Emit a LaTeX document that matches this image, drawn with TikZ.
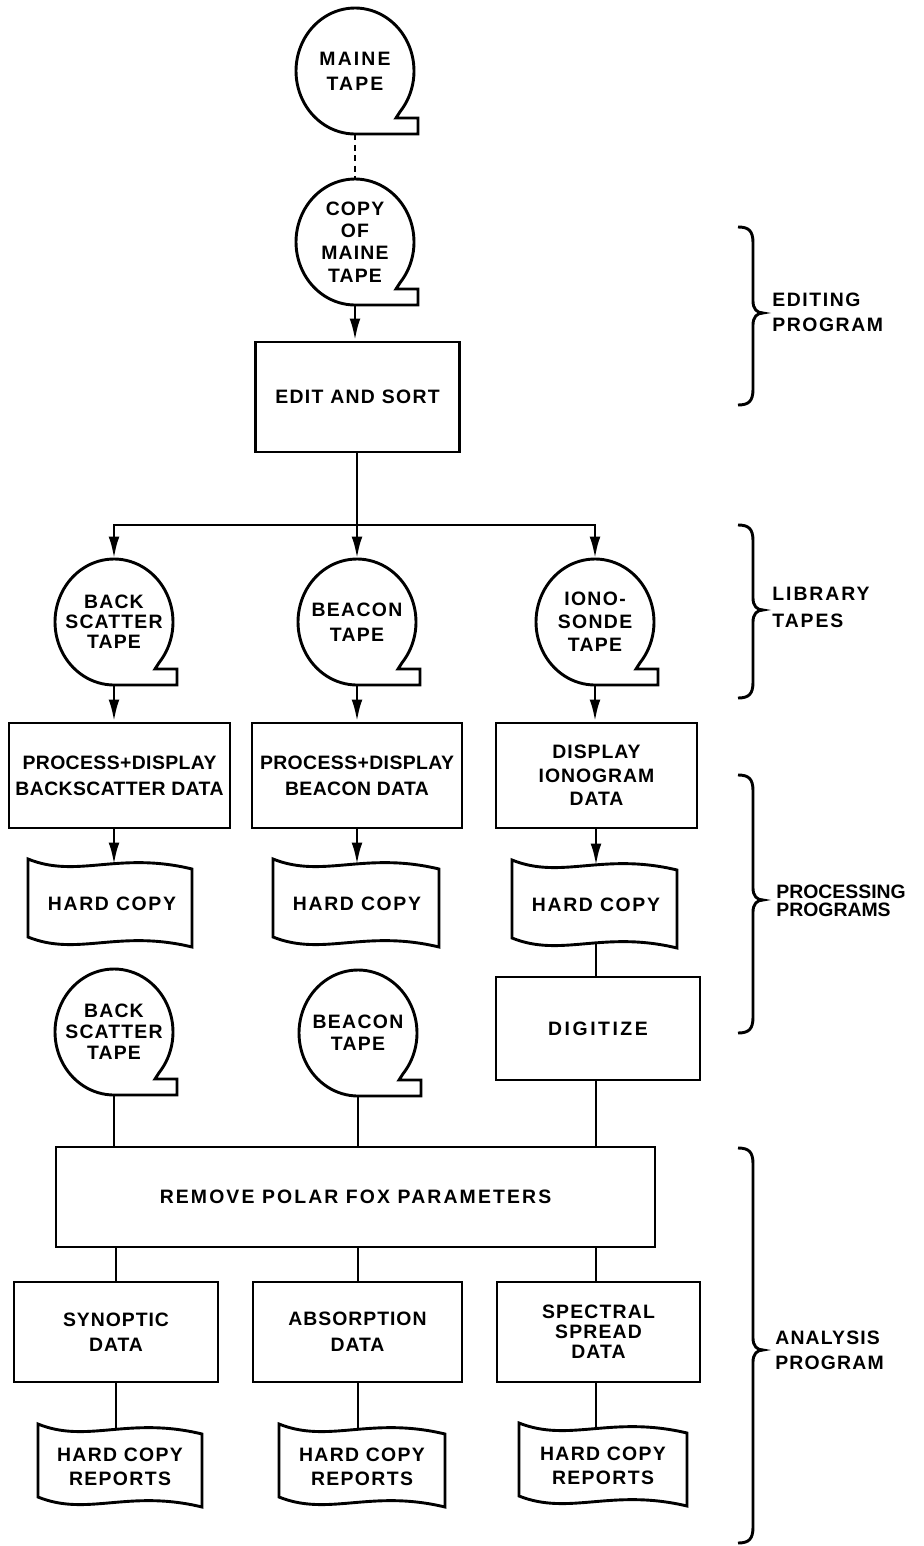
\documentclass[tikz,border=0pt]{standalone}
\usepackage{fontspec}
\setmainfont{Liberation Sans}
\usetikzlibrary{arrows.meta}
% tape (reel) outline: centre cx, cy (pixel units)
\newcommand\tapeshape[2]{%
  \draw[ln] plot[smooth, domain=90:400, samples=80] ({#1+59*cos(\x)},{#2+63*sin(\x)})
    -- ({#1+41},{#2+47}) -- ({#1+63},{#2+47}) -- ({#1+63},{#2+63}) -- cycle;}
% hard-copy outline: left, top, right, height
\newcommand\hcshape[4]{%
  \draw[ln] (#1,#2) .. controls ({#1+0.3*(#3-#1)},{#2+20}) and ({#1+0.55*(#3-#1)},{#2-8}) .. (#3,{#2+10})
    -- (#3,{#2+10+#4}) .. controls ({#1+0.55*(#3-#1)},{#2+#4-8}) and ({#1+0.3*(#3-#1)},{#2+#4+20}) .. (#1,{#2+#4}) -- cycle;}
% right brace: top, tip, bottom
\newcommand\bracedraw[3]{%
  \draw[ln] (738,#1) .. controls (749,#1) and (753,{#1+4}) .. (753,{#1+16})
    -- (753,{#2-12}) .. controls (753,{#2-4}) and (757,#2) .. (763,#2)
    .. controls (757,#2) and (753,{#2+4}) .. (753,{#2+12})
    -- (753,{#3-16}) .. controls (753,{#3-4}) and (749,#3) .. (738,#3);}
\begin{document}
\begin{tikzpicture}[x=0.5pt,y=-0.5pt,
  ln/.style={line width=1.45pt},
  arr/.style={ln,-{Latex[length=11pt,width=5.4pt]}},
  fnt/.style n args={2}{font=\fontsize{9.7}{#2}\selectfont\bfseries\addfontfeature{LetterSpace=#1}},
  box/.style={draw,ln,rectangle,inner sep=0pt,align=center},
  tapen/.style={circle,minimum size=63pt,inner sep=0pt,align=center},
  hcn/.style={rectangle,inner sep=0pt,align=center,minimum width=75pt},
  lab/.style={anchor=west,align=left,inner sep=0pt}]
\useasboundingbox (0,0) rectangle (923,1546);

% ---------- tapes ----------
\tapeshape{355}{71}
\node[tapen,fnt={11}{12.5}] (maine) at (355,71) {MAINE\\TAPE};
\tapeshape{355}{242}
\node[tapen,fnt={6}{11.2}] (copy) at (355,242) {COPY\\OF\\MAINE\\TAPE};
\tapeshape{114}{622}
\node[tapen,fnt={6}{10}] (bst1) at (114,622) {BACK\\SCATTER\\TAPE};
\tapeshape{357}{622}
\node[tapen,fnt={7}{12.5}] (bcn1) at (357,622) {BEACON\\TAPE};
\tapeshape{595}{622}
\node[tapen,fnt={7}{11.5}] (iono) at (595,622) {IONO-\\SONDE\\TAPE};
\tapeshape{114}{1032}
\node[tapen,fnt={6}{10.5}] (bst2) at (114,1032) {BACK\\SCATTER\\TAPE};
\tapeshape{358}{1033}
\node[tapen,fnt={7}{11}] (bcn2) at (358,1033) {BEACON\\TAPE};

% ---------- boxes ----------
\node[box,fnt={7}{12},minimum width=102pt,minimum height=55pt] (edit) at (357.5,397) {EDIT AND SORT};
\node[box,fnt={2}{13},minimum width=110.5pt,minimum height=52.5pt] (proc1) at (119.5,775.5) {PROCESS+DISPLAY\\BACKSCATTER DATA};
\node[box,fnt={2}{13},minimum width=105pt,minimum height=52.5pt] (proc2) at (357,775.5) {PROCESS+DISPLAY\\BEACON DATA};
\node[box,fnt={5}{11.8},minimum width=100.5pt,minimum height=52.5pt] (proc3) at (596.5,775.5) {DISPLAY\\IONOGRAM\\DATA};
\node[box,fnt={13}{12},minimum width=102pt,minimum height=51.5pt] (digit) at (598,1028.5) {DIGITIZE};
\node[box,fnt={11}{12},minimum width=299.5pt,minimum height=50pt] (remove) at (355.5,1197) {REMOVE POLAR FOX PARAMETERS};
\node[box,fnt={5}{12.5},minimum width=102pt,minimum height=50pt] (synop) at (116,1332) {SYNOPTIC\\DATA};
\node[box,fnt={5}{13},minimum width=104.5pt,minimum height=50pt] (absorb) at (357.5,1332) {ABSORPTION\\DATA};
\node[box,fnt={6}{10},minimum width=101.5pt,minimum height=50pt] (spect) at (598.5,1332) {SPECTRAL\\SPREAD\\DATA};

% ---------- hard copies ----------
\hcshape{28}{859}{192}{78}
\node[hcn,fnt={8.6}{12},minimum height=39pt] (hc1) at (112,904) {HARD COPY};
\hcshape{273}{859}{439}{78}
\node[hcn,fnt={8.6}{12},minimum height=39pt] (hc2) at (357,904) {HARD COPY};
\hcshape{512}{860}{677}{78}
\node[hcn,fnt={8.6}{12},minimum height=39pt] (hc3) at (596,905) {HARD COPY};
\hcshape{38}{1424}{202}{73}
\node[hcn,fnt={7}{12},minimum height=36.5pt] (rep1) at (120,1466.5) {HARD COPY\\REPORTS};
\hcshape{279}{1424}{445}{73}
\node[hcn,fnt={7}{12},minimum height=36.5pt] (rep2) at (362,1466.5) {HARD COPY\\REPORTS};
\hcshape{519}{1423}{687}{73}
\node[hcn,fnt={7}{12},minimum height=36.5pt] (rep3) at (603,1465.5) {HARD COPY\\REPORTS};

% ---------- connectors ----------
\draw[ln,dash pattern=on 3pt off 2.2pt] (maine.south) -- (copy.north);
\draw[arr] (copy.south) -- (copy.south |- edit.north);
\coordinate (split) at (357,525);
\draw[ln] (edit.south -| split) -- (split);
\draw[arr] (split) -| (bst1.north);
\draw[arr] (split) -| (iono.north);
\draw[arr] (split) -- (split |- bcn1.north);
\draw[arr] (bst1.south) -- (bst1.south |- proc1.north);
\draw[arr] (bcn1.south) -- (bcn1.south |- proc2.north);
\draw[arr] (iono.south) -- (iono.south |- proc3.north);
\draw[arr] (bst1.south |- proc1.south) -- (bst1.south |- hc1.north);
\draw[arr] (bcn1.south |- proc2.south) -- (bcn1.south |- hc2.north);
\draw[arr] (hc3.north |- proc3.south) -- (hc3.north);
\draw[ln] (hc3.south) -- (hc3.south |- digit.north);
\draw[ln] (bst2.south) -- (bst2.south |- remove.north);
\draw[ln] (bcn2.south) -- (bcn2.south |- remove.north);
\draw[ln] (hc3.south |- digit.south) -- (hc3.south |- remove.north);
\draw[ln] (synop.north |- remove.south) -- (synop.north);
\draw[ln] (bcn2.south |- remove.south) -- (bcn2.south |- absorb.north);
\draw[ln] (hc3.south |- remove.south) -- (hc3.south |- spect.north);
\draw[ln] (synop.south) -- (synop.south |- rep1.north);
\draw[ln] (bcn2.south |- absorb.south) -- (bcn2.south |- rep2.north);
\draw[ln] (hc3.south |- spect.south) -- (hc3.south |- rep3.north);

% ---------- braces and labels ----------
\bracedraw{227}{313}{405}
\node[lab,fnt={8}{12.5}] (edlab) at (772,312) {EDITING\\PROGRAM};
\bracedraw{525}{610}{698}
\node[lab,fnt={10}{13.5}] (liblab) at (772,607) {LIBRARY\\TAPES};
\bracedraw{775}{900}{1033}
\node[lab,fnt={0}{9.2}] (proclab) at (776,901) {PROCESSING\\PROGRAMS};
\bracedraw{1148}{1350}{1543}
\node[lab,fnt={6}{12.5}] (anlab) at (775,1350) {ANALYSIS\\PROGRAM};
\end{tikzpicture}
\end{document}
